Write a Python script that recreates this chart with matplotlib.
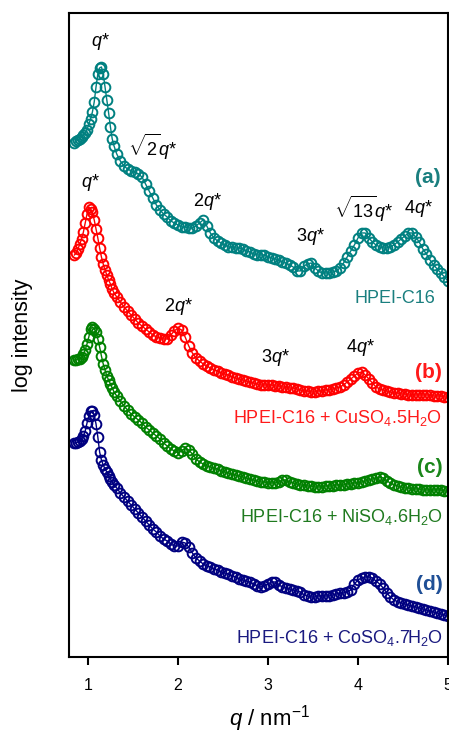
import matplotlib
matplotlib.use("Agg")
import matplotlib.pyplot as plt

plt.rcParams['font.family'] = ['Liberation Sans', 'DejaVu Sans']
plt.rcParams['mathtext.fontset'] = 'custom'
plt.rcParams['mathtext.rm'] = 'Liberation Sans'
plt.rcParams['mathtext.it'] = 'Liberation Sans:italic'
plt.rcParams['mathtext.bf'] = 'Liberation Sans:bold'

# ---- data: q (nm^-1) sampling shared by the four patterns ----
q = [0.85, 0.87, 0.89, 0.91, 0.93, 0.95, 0.97, 0.99, 1.01, 1.03, 1.05, 1.07,
     1.09, 1.11, 1.13, 1.15, 1.17, 1.19, 1.21, 1.23, 1.25, 1.27, 1.29,
     1.32, 1.36, 1.40, 1.44, 1.48, 1.52, 1.56, 1.60, 1.64, 1.68, 1.72, 1.76,
     1.80, 1.84, 1.88, 1.92, 1.96, 2.00, 2.04, 2.08, 2.12, 2.16, 2.20, 2.24,
     2.28, 2.32, 2.36, 2.40, 2.44, 2.48, 2.52, 2.56, 2.60, 2.64, 2.68, 2.72,
     2.76, 2.80, 2.84, 2.88, 2.92, 2.96, 3.00, 3.04, 3.08, 3.12, 3.16, 3.20,
     3.24, 3.28, 3.32, 3.36, 3.40, 3.44, 3.48, 3.52, 3.56, 3.60, 3.64, 3.68,
     3.72, 3.76, 3.80, 3.84, 3.88, 3.92, 3.96, 4.00, 4.04, 4.08, 4.12, 4.16,
     4.20, 4.24, 4.28, 4.32, 4.36, 4.40, 4.44, 4.48, 4.52, 4.56, 4.60, 4.64,
     4.68, 4.72, 4.76, 4.80, 4.84, 4.88, 4.92, 4.96, 5.00]

# (a) HPEI-C16  (log intensity, arbitrary offset units)
I_a = [5.14, 5.155, 5.17, 5.18, 5.20, 5.22, 5.24, 5.27, 5.33, 5.38, 5.45, 5.55,
       5.70, 5.83, 5.89, 5.90, 5.83, 5.70, 5.57, 5.44, 5.30, 5.18, 5.11,
       5.03, 4.96, 4.91, 4.88, 4.86, 4.85, 4.83, 4.80, 4.73, 4.66, 4.59, 4.52,
       4.47, 4.43, 4.40, 4.36, 4.34, 4.32, 4.30, 4.30, 4.29, 4.29, 4.31, 4.34,
       4.37, 4.31, 4.24, 4.19, 4.16, 4.14, 4.12, 4.10, 4.10, 4.09, 4.09, 4.08,
       4.06, 4.05, 4.03, 4.02, 4.02, 4.02, 4.00, 3.99, 3.98, 3.97, 3.95, 3.94,
       3.92, 3.90, 3.86, 3.86, 3.91, 3.93, 3.94, 3.89, 3.86, 3.84, 3.84, 3.84,
       3.85, 3.86, 3.89, 3.94, 4.00, 4.06, 4.12, 4.19, 4.24, 4.24, 4.19, 4.15,
       4.12, 4.10, 4.09, 4.09, 4.10, 4.12, 4.15, 4.18, 4.21, 4.24, 4.24, 4.20,
       4.15, 4.08, 4.03, 3.97, 3.92, 3.88, 3.84, 3.80, 3.76]

# (b) HPEI-C16 + CuSO4.5H2O
I_b = [4.02, 4.04, 4.08, 4.13, 4.18, 4.25, 4.34, 4.43, 4.50, 4.48, 4.45, 4.37,
       4.28, 4.19, 4.09, 4.00, 3.93, 3.87, 3.82, 3.77, 3.73, 3.68, 3.64,
       3.60, 3.55, 3.50, 3.46, 3.42, 3.38, 3.34, 3.31, 3.28, 3.25, 3.22, 3.20,
       3.19, 3.18, 3.18, 3.22, 3.26, 3.29, 3.27, 3.20, 3.11, 3.04, 2.99, 2.96,
       2.93, 2.91, 2.89, 2.87, 2.86, 2.84, 2.83, 2.82, 2.80, 2.79, 2.78, 2.77,
       2.76, 2.75, 2.74, 2.73, 2.72, 2.72, 2.72, 2.72, 2.71, 2.71, 2.70, 2.70,
       2.69, 2.69, 2.68, 2.67, 2.66, 2.66, 2.65, 2.65, 2.66, 2.66, 2.67, 2.67,
       2.68, 2.69, 2.70, 2.72, 2.75, 2.78, 2.81, 2.84, 2.85, 2.82, 2.78, 2.74,
       2.70, 2.68, 2.67, 2.66, 2.65, 2.64, 2.64, 2.63, 2.63, 2.62, 2.62, 2.62,
       2.62, 2.62, 2.62, 2.62, 2.61, 2.61, 2.61, 2.60, 2.60]

# (c) HPEI-C16 + NiSO4.6H2O
I_c = [2.97, 2.97, 2.98, 2.98, 3.00, 3.03, 3.07, 3.13, 3.20, 3.28, 3.30, 3.28,
       3.25, 3.18, 3.10, 3.01, 2.93, 2.87, 2.81, 2.77, 2.73, 2.69, 2.65,
       2.61, 2.56, 2.51, 2.47, 2.43, 2.40, 2.37, 2.34, 2.30, 2.27, 2.24, 2.21,
       2.18, 2.14, 2.11, 2.08, 2.06, 2.04, 2.06, 2.09, 2.07, 2.03, 1.98, 1.95,
       1.93, 1.91, 1.90, 1.89, 1.88, 1.86, 1.85, 1.84, 1.83, 1.82, 1.81, 1.80,
       1.79, 1.78, 1.77, 1.76, 1.75, 1.75, 1.74, 1.74, 1.74, 1.75, 1.77, 1.77,
       1.75, 1.74, 1.73, 1.72, 1.72, 1.71, 1.71, 1.70, 1.70, 1.70, 1.71, 1.71,
       1.71, 1.72, 1.72, 1.72, 1.73, 1.73, 1.74, 1.74, 1.75, 1.76, 1.77, 1.78,
       1.79, 1.80, 1.79, 1.76, 1.74, 1.72, 1.71, 1.70, 1.69, 1.69, 1.68, 1.68,
       1.68, 1.67, 1.67, 1.67, 1.67, 1.67, 1.67, 1.66, 1.66]

# (d) HPEI-C16 + CoSO4.7H2O
I_d = [2.14, 2.14, 2.15, 2.16, 2.18, 2.21, 2.26, 2.34, 2.41, 2.46, 2.46, 2.42,
       2.33, 2.20, 2.05, 1.97, 1.92, 1.88, 1.85, 1.81, 1.78, 1.75, 1.72,
       1.69, 1.64, 1.60, 1.56, 1.52, 1.48, 1.44, 1.40, 1.36, 1.32, 1.28, 1.25,
       1.21, 1.18, 1.16, 1.13, 1.11, 1.11, 1.15, 1.14, 1.10, 1.04, 0.99, 0.96,
       0.93, 0.91, 0.90, 0.88, 0.87, 0.85, 0.84, 0.83, 0.81, 0.80, 0.78, 0.77,
       0.76, 0.75, 0.73, 0.71, 0.70, 0.71, 0.73, 0.75, 0.75, 0.72, 0.70, 0.69,
       0.68, 0.67, 0.66, 0.65, 0.62, 0.61, 0.60, 0.60, 0.61, 0.61, 0.61, 0.61,
       0.62, 0.63, 0.64, 0.64, 0.65, 0.67, 0.73, 0.77, 0.79, 0.80, 0.80, 0.79,
       0.76, 0.73, 0.69, 0.64, 0.60, 0.57, 0.55, 0.54, 0.53, 0.52, 0.51, 0.50,
       0.49, 0.48, 0.47, 0.46, 0.45, 0.44, 0.43, 0.42, 0.41]

x_ticks = [1, 2, 3, 4, 5]
x_ticklabels = ['1', '2', '3', '4', '5']

c_a, c_b, c_c, c_d = '#008080', '#ff0000', '#008000', '#000080'

fig = plt.figure(figsize=(4.49, 7.32), dpi=100)
ax = fig.add_axes([0.1537, 0.1025, 0.8441, 0.8798])

for I, c in [(I_a, c_a), (I_b, c_b), (I_c, c_c), (I_d, c_d)]:
    ax.plot(q, I, '-', color=c, lw=1.0, marker='o', ms=7, mfc='none',
            mec=c, mew=1.4)

ax.set_xlim(0.79, 5.0)
ax.set_ylim(0, 6.44)
ax.set_yticks([])
ax.set_xticks(x_ticks)
ax.set_xticklabels(x_ticklabels)
ax.tick_params(axis='x', direction='out', length=6, width=1.5, labelsize=11.5, pad=9)
for s in ax.spines.values():
    s.set_linewidth(1.5)
ax.set_xlabel(r'$q$ / nm$^{-1}$', fontsize=16)
ax.xaxis.set_label_coords(0.53, -0.072)
ax.set_ylabel('log intensity', fontsize=15.5)
ax.yaxis.set_label_coords(-0.095, 0.5)

ann = dict(fontsize=13, color='black', ha='center', va='center')
ax.text(1.137, 6.15, r'$q$*', **ann)
ax.text(1.714, 5.10, r'$\sqrt{2}q$*', **ann)
ax.text(2.326, 4.55, r'2$q$*', **ann)
ax.text(3.47, 4.20, r'3$q$*', **ann)
ax.text(4.06, 4.48, r'$\sqrt{13}q$*', **ann)
ax.text(4.67, 4.48, r'4$q$*', **ann)
ax.text(1.026, 4.74, r'$q$*', **ann)
ax.text(2.003, 3.50, r'2$q$*', **ann)
ax.text(3.081, 2.99, r'3$q$*', **ann)
ax.text(4.026, 3.09, r'4$q$*', **ann)

lab = dict(fontsize=15, fontweight='bold', ha='right', va='center')
ax.text(4.914, 4.79, '(a)', color='#1a7f7f', **lab)
ax.text(4.937, 2.84, '(b)', color='#ff1a1a', **lab)
ax.text(4.937, 1.89, '(c)', color='#1a861a', **lab)
ax.text(4.937, 0.72, '(d)', color='#1f4f96', **lab)

nm = dict(fontsize=13, ha='right', va='center')
ax.text(4.859, 3.58, 'HPEI-C16', color='#1a7f7f', **nm)
ax.text(4.937, 2.39, r'HPEI-C16 + CuSO$_4$.5H$_2$O', color='#ff1a1a', **nm)
ax.text(4.948, 1.40, r'HPEI-C16 + NiSO$_4$.6H$_2$O', color='#1f7a1f', **nm)
ax.text(4.948, 0.19, r'HPEI-C16 + CoSO$_4$.7H$_2$O', color='#1a1a80', **nm)

fig.savefig('out.png', dpi=100)
